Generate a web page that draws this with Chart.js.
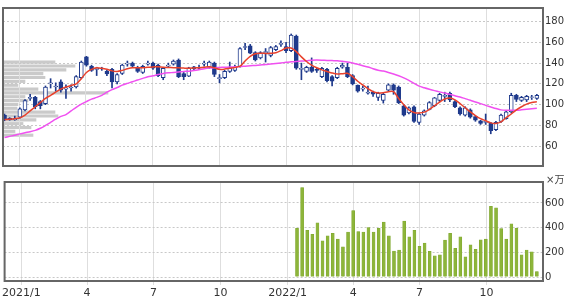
<!DOCTYPE html>
<html>
<head>
<meta charset="utf-8">
<script src="https://cdn.jsdelivr.net/npm/chart.js@4.4.0/dist/chart.umd.min.js"></script>
<style>
  html, body { margin: 0; padding: 0; background: #fff; }
  #wrap { position: relative; width: 567px; height: 298px; }
  canvas { position: absolute; left: 0; }
</style>
</head>
<body>
<div id="wrap">
  <canvas id="profileChart" width="567" height="174" style="top:0"></canvas>
  <canvas id="priceChart" width="567" height="174" style="top:0"></canvas>
  <canvas id="volumeChart" width="567" height="124" style="top:174px"></canvas>
</div>
<script>
// Weekly candles, first week ends 2020/12/11
const firstWeek = '2020-12-11';
const quarterDates = ['2021-01-01', '2021-04-01', '2021-07-01', '2021-10-01',
                      '2022-01-01', '2022-04-01', '2022-07-01', '2022-10-01'];
const quarterLabels = ['2021/1', '4', '7', '10', '2022/1', '4', '7', '10'];
const priceTicks = [60, 80, 100, 120, 140, 160, 180];
const volumeTicks = [0, 100, 200, 300, 400, 500, 600, 700];

const opens = [90, 87, 85.5, 88, 95, 106, 107, 103, 101, 120, 117, 122, 115, 116, 117, 126, 146, 137, 134, 135,
  132, 134, 122, 130, 139, 140, 135.5, 131, 139, 140, 138, 126, 137, 139, 143, 130, 127.5, 136.5, 135, 139,
  136, 140, 125, 126, 132, 133, 136.5, 155, 156.5, 150, 145, 150, 147.5, 153, 158, 156, 152, 166, 134, 132,
  136, 134, 127, 134, 127, 126, 136, 136, 128, 118.5, 115, 111, 112, 107, 104, 114, 119, 117, 99, 92,
  98, 83, 90, 95.5, 99, 104, 108, 111, 103, 97, 90, 95, 88.5, 84.5, 83, 82, 76, 84, 86.5, 93,
  109, 104, 104.5, 107, 106];
const highs = [91, 87.5, 89, 97, 105, 110, 108, 104, 118, 125, 121, 124, 119, 119, 128, 142, 146.5, 138, 136, 136,
  133, 135, 130, 139, 142, 141, 137, 138, 142, 141, 139, 136, 140, 143, 144, 131, 136, 137, 138, 142,
  142, 141, 129, 133, 141, 138, 155, 159, 158, 151, 151, 154, 156, 157, 161.5, 160, 168, 167, 140, 137,
  145, 135, 136, 135, 128, 136, 140, 140, 129, 119, 118, 118, 113, 112, 111, 120, 120, 118, 100, 98,
  99, 92, 95, 103, 107, 111, 112, 112, 104, 98, 98, 96, 89, 85, 91, 83, 84, 91, 94, 111,
  110, 108, 109, 109, 110];
const lows = [84.5, 85, 85, 87, 94, 104, 96, 96, 100, 116, 113, 112, 106, 113, 116, 125, 137, 132, 128, 133,
  128, 116, 120, 129, 137, 136, 131, 130, 138, 134, 127, 124, 136, 138, 126, 124, 127, 133, 134, 137,
  135, 127, 121, 125, 131, 132, 136, 153, 149, 142, 144, 141, 146, 152, 156, 150, 151, 134, 124, 131,
  131, 131, 126, 122, 118, 125, 135, 126, 119, 112, 113, 110, 108, 104, 101.5, 113, 110, 101, 89, 91,
  83, 81, 89, 95, 98, 103, 103, 103, 97, 90, 89, 87, 84, 81, 81, 72, 75, 83, 86, 92,
  103, 103, 103, 105, 105];
const closes = [86.5, 85.5, 86.5, 96, 104, 107, 98, 99, 117, 121, 118, 114, 116, 117, 127, 141, 138, 133, 135, 134.5,
  129.5, 122, 129, 138, 140, 137, 132, 137, 140, 135, 128, 135, 138, 142, 127, 127, 135.5, 134.5, 136, 140,
  141, 129, 126, 132, 135.5, 136, 154, 156, 149.5, 143, 150, 151, 155, 156, 159, 152, 167, 135, 135, 136,
  132, 133, 135, 123, 122.5, 135, 138, 127, 120, 113, 116, 112, 110, 111, 110, 119, 114, 102, 90, 97,
  84, 91, 94, 102, 106.5, 110, 109, 104.5, 98, 91, 97, 88, 85, 82, 84, 75, 83, 90, 93, 109,
  105, 107, 108, 107.5, 109];

// Moving averages (red = short, magenta = long)
const maShort = [85.7, 86, 86.5, 87.3, 90, 94, 98, 102, 106, 109, 112, 115, 117, 118.5, 120, 125, 131, 134, 135.5, 135,
  134, 132.5, 132, 133, 134.5, 135.5, 135.5, 135.5, 136, 136.3, 136.5, 136, 135.8, 135.6, 135.5, 135.2, 135, 135.3, 135.6, 136,
  136.5, 135.5, 134, 134.2, 135, 135.8, 137, 142, 146.5, 149, 149.5, 149.3, 149.5, 150, 152, 154.5, 154.5, 151, 146, 141.5,
  138, 135.5, 133.5, 132, 130.5, 129.5, 129.8, 130.2, 127, 122.5, 119, 115.5, 112.5, 111.2, 111.5, 112.5, 112.5, 106, 100, 95,
  92.5, 92, 92.8, 95.5, 99, 102.5, 105.5, 106.5, 104.7, 101, 97, 93, 89.5, 86.5, 84.5, 82.5, 82, 83.5, 87.5, 91,
  95, 98, 100.5, 102, 102.8];
const maLong = [68.3, 69.5, 70.6, 71.9, 73, 74, 75.3, 77.3, 80, 83, 86, 88.7, 90.5, 94, 97.5, 100.5, 103, 105.3, 107, 109,
  112, 114.5, 116.5, 118.8, 120.5, 122, 123.8, 125.3, 126.8, 127.8, 129, 130, 130.6, 131, 131.5, 132, 132.2, 132.8, 133.6, 134.5,
  135.2, 135.6, 135.8, 136, 136.2, 136.4, 136.6, 137, 137.4, 137.8, 138.2, 138.6, 139.2, 139.7, 140.2, 140.7, 141.2, 141.5, 141.9, 142.3,
  142.8, 142.9, 142.8, 142.6, 142.4, 142.2, 141.7, 141.1, 140, 138.8, 137.5, 136.3, 134.6, 133.2, 132.3, 131, 129.5, 127.8, 125.8, 123.3,
  120.5, 117.8, 116.2, 114.8, 113.5, 112.3, 111.2, 109.9, 108.6, 107.3, 105.8, 104.3, 102.6, 101, 99.3, 97.8, 96.3, 95, 94.6, 94.6,
  94.6, 95, 95.5, 96, 96.5];

// Volume (x10,000 shares), only available from week 57 on
const volumeStartWeek = 57;
const volumes = [395, 725, 379, 347, 440, 293, 333, 355, 307, 245, 365, 539, 368, 365, 400, 365, 395, 445, 333, 211,
  219, 453, 325, 379, 248, 275, 208, 171, 179, 299, 355, 232, 325, 163, 261, 224, 301, 307, 573, 560,
  392, 307, 432, 395, 179, 219, 205, 45];

// Volume-at-price profile
const profilePrices = [141, 137.5, 134, 130.5, 127, 123.5, 120, 116.5, 113, 109.5, 106, 102.5, 99, 95.5, 92, 88.5, 85, 81.5, 78, 74.5];
const profileVolumes = [52, 72, 63, 40, 42, 22, 15, 35, 105, 22, 25, 15, 14, 52, 55, 33, 20, 28, 12, 30];

const NAVY = '#1f3a8c';
const X_MIN = -0.3, X_MAX = 105.2;
const FONT = { family: '"DejaVu Sans", Verdana, sans-serif', size: 11 };
const Y_FONT = { family: '"DejaVu Sans", Verdana, sans-serif', size: 10 };

/**
 * Week position of a calendar date, measured from the first candle
 */
function weekOf(dateStr) {
    return (Date.parse(dateStr) - Date.parse(firstWeek)) / (7 * 86400000);
}

const quarterWeeks = quarterDates.map(weekOf);

// Frame around each panel
const panelBorder = {
    id: 'panelBorder',
    afterDraw(chart) {
        const { ctx, chartArea: a } = chart;
        ctx.save();
        ctx.strokeStyle = '#666';
        ctx.lineWidth = 2;
        ctx.strokeRect(a.left, a.top, a.right - a.left, a.bottom - a.top);
        ctx.restore();
    }
};

// Unit label above the volume axis
const unitLabel = {
    id: 'unitLabel',
    afterDraw(chart) {
        const { ctx, chartArea: a } = chart;
        ctx.save();
        ctx.fillStyle = '#444';
        ctx.font = '10px "DejaVu Sans", "Noto Sans CJK JP", sans-serif';
        ctx.textBaseline = 'middle';
        ctx.fillText('×万', a.right + 3, 6);
        ctx.restore();
    }
};

function quarterAxis(showLabels) {
    return {
        type: 'linear',
        min: X_MIN,
        max: X_MAX,
        offset: false,
        afterBuildTicks: s => { s.ticks = quarterWeeks.map(v => ({ value: v })); },
        afterFit: s => { s.height = showLabels ? 17 : 0; },
        grid: { color: '#dedede', offset: false, drawTicks: showLabels, tickLength: 4 },
        border: { display: false },
        ticks: {
            display: showLabels,
            autoSkip: false,
            maxRotation: 0,
            padding: 2,
            color: '#333',
            font: FONT,
            callback: (v, i) => quarterLabels[i]
        }
    };
}

const weeks = opens.map((_, i) => i);
const isUp = weeks.map(i => closes[i] >= opens[i]);

// Volume profile, drawn underneath the price panel
new Chart(document.getElementById('profileChart'), {
    type: 'bar',
    data: {
        datasets: [{
            data: profilePrices.map((p, i) => ({ x: profileVolumes[i], y: p })),
            backgroundColor: '#cacaca',
            barThickness: 2.5
        }]
    },
    options: {
        indexAxis: 'y',
        responsive: false,
        animation: false,
        layout: { padding: { left: 3, top: 5, right: 24, bottom: 2 } },
        plugins: { legend: { display: false }, tooltip: { enabled: false } },
        scales: {
            x: { type: 'linear', min: 0, max: 540, display: false },
            y: { type: 'linear', min: 41, max: 193, offset: false, display: false }
        }
    }
});

// Candles and moving averages
new Chart(document.getElementById('priceChart'), {
    type: 'bar',
    data: {
        datasets: [
            {
                type: 'line',
                data: weeks.map(i => ({ x: i, y: maShort[i] })),
                borderColor: '#e8412c',
                borderWidth: 1.5,
                pointRadius: 0,
                tension: 0.3,
                order: 1
            },
            {
                type: 'line',
                data: weeks.map(i => ({ x: i, y: maLong[i] })),
                borderColor: '#f050f0',
                borderWidth: 1.5,
                pointRadius: 0,
                tension: 0.3,
                order: 1
            },
            {
                data: weeks.map(i => ({ x: i, y: [opens[i], closes[i]] })),
                backgroundColor: isUp.map(u => u ? '#ffffff' : NAVY),
                borderColor: NAVY,
                borderWidth: 1,
                borderSkipped: false,
                barThickness: 4,
                grouped: false,
                order: 2
            },
            {
                data: weeks.map(i => ({ x: i, y: [lows[i], highs[i]] })),
                backgroundColor: NAVY,
                barThickness: 1,
                grouped: false,
                order: 3
            }
        ]
    },
    options: {
        responsive: false,
        animation: false,
        layout: { padding: { left: 3, top: 5, right: 0, bottom: 2 } },
        plugins: { legend: { display: false }, tooltip: { enabled: false } },
        scales: {
            x: quarterAxis(false),
            y: {
                type: 'linear',
                position: 'right',
                min: 41,
                max: 193,
                afterBuildTicks: s => { s.ticks = priceTicks.map(v => ({ value: v })); },
                afterFit: s => { s.width = 24; },
                grid: { color: '#c8c8c8', drawTicks: false },
                border: { display: false, dash: [2, 2] },
                ticks: { padding: 2, color: '#333', font: Y_FONT }
            }
        }
    },
    plugins: [panelBorder]
});

// Volume panel
new Chart(document.getElementById('volumeChart'), {
    type: 'bar',
    data: {
        datasets: [{
            data: volumes.map((v, i) => ({ x: volumeStartWeek + i, y: v })),
            backgroundColor: '#8db53a',
            borderColor: '#7da52e',
            borderWidth: 0.5,
            barThickness: 3,
            grouped: false
        }]
    },
    options: {
        responsive: false,
        animation: false,
        layout: { padding: { left: 3, top: 8, right: 0, bottom: 0 } },
        plugins: { legend: { display: false }, tooltip: { enabled: false } },
        scales: {
            x: quarterAxis(true),
            y: {
                type: 'linear',
                position: 'right',
                min: -32,
                max: 770,
                afterBuildTicks: s => { s.ticks = volumeTicks.map(v => ({ value: v })); },
                afterFit: s => { s.width = 24; },
                grid: { color: '#c8c8c8', drawTicks: false },
                border: { display: false, dash: [2, 2] },
                ticks: {
                    padding: 2,
                    color: '#333',
                    font: Y_FONT,
                    callback: v => (v % 200 === 0 ? String(v) : '')
                }
            }
        }
    },
    plugins: [panelBorder, unitLabel]
});
</script>
</body>
</html>
